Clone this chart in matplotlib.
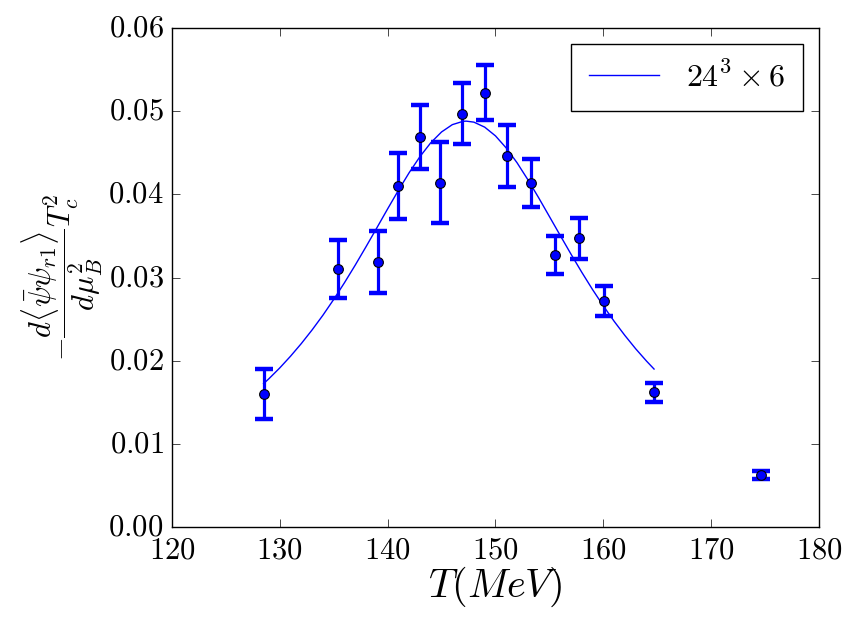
import matplotlib
matplotlib.use("Agg")
import matplotlib.pyplot as plt
from matplotlib.ticker import FuncFormatter

plt.style.use('classic')
plt.rcParams['mathtext.fontset'] = 'cm'
plt.rcParams['figure.facecolor'] = 'white'
plt.rcParams['savefig.facecolor'] = 'white'

# data points (T in MeV)
T = [128.5, 135.4, 139.1, 141.0, 143.0, 144.9, 146.9, 149.0, 151.1, 153.3,
     155.5, 157.7, 160.1, 164.7, 174.6]
val = [0.0160, 0.0310, 0.0319, 0.0410, 0.0469, 0.0414, 0.0497, 0.0522, 0.0446, 0.0414,
       0.0327, 0.0347, 0.0272, 0.0162, 0.0063]
err = [0.0030, 0.0035, 0.0037, 0.0040, 0.0038, 0.0049, 0.0037, 0.0033, 0.0037, 0.0029,
       0.0023, 0.0025, 0.0018, 0.0011, 0.0005]

# fit curve
fit_T = [128.5, 129, 130, 131, 132, 133, 134, 135, 136, 137, 138, 139, 140, 141, 142, 143,
         144, 145, 146, 147, 147.3, 148, 149, 150, 151, 152, 153, 154, 155, 156, 157, 158,
         159, 160, 161, 162, 163, 164, 164.7]
fit_val = [0.01725, 0.01785, 0.01914, 0.02055, 0.02207, 0.02371, 0.02547, 0.02737, 0.02938,
           0.0315, 0.03371, 0.03597, 0.03825, 0.04048, 0.04261, 0.04454, 0.0462, 0.0475,
           0.04838, 0.04878, 0.0488, 0.04868, 0.04808, 0.04703, 0.04557, 0.0438, 0.04177,
           0.0396, 0.03734, 0.03507, 0.03282, 0.03064, 0.02856, 0.0266, 0.02475, 0.02304,
           0.02144, 0.01997, 0.01901]

fig = plt.figure(figsize=(8.55, 6.21), dpi=100)
ax = fig.add_axes([0.201, 0.151, 0.757, 0.804])

ax.plot(fit_T, fit_val, color='b', lw=1.0, label=r'$24^3\times 6$')
ax.errorbar(T, val, yerr=err, fmt='none', ecolor='b', elinewidth=2.3,
            capsize=6.5, capthick=3.2)
ax.plot(T, val, 'o', mfc='b', mec='k', mew=0.8, ms=7)

ax.set_xlim(120, 180)
ax.set_ylim(0, 0.06)
ax.set_xticks([120, 130, 140, 150, 160, 170, 180])
ax.set_yticks([0.0, 0.01, 0.02, 0.03, 0.04, 0.05, 0.06])
ax.xaxis.set_major_formatter(FuncFormatter(lambda v, p: r'$%d$' % v))
ax.yaxis.set_major_formatter(FuncFormatter(lambda v, p: r'$%.2f$' % v))
ax.tick_params(labelsize=22, length=6, direction='in', top=True, right=True, pad=6)
ax.minorticks_off()

ax.set_xlabel(r'$T(MeV)$', fontsize=29, labelpad=0)
ax.set_ylabel(r'$-\dfrac{d\langle\bar{\psi}\psi_{r1}\rangle}{d\mu_B^2}T_c^2$', fontsize=22, labelpad=2)

leg = ax.legend(loc='upper right', fontsize=23, numpoints=1, handlelength=2.2,
                handletextpad=0.85, borderpad=0.55)
leg.get_frame().set_edgecolor('k')

fig.savefig('out.png', dpi=100)
